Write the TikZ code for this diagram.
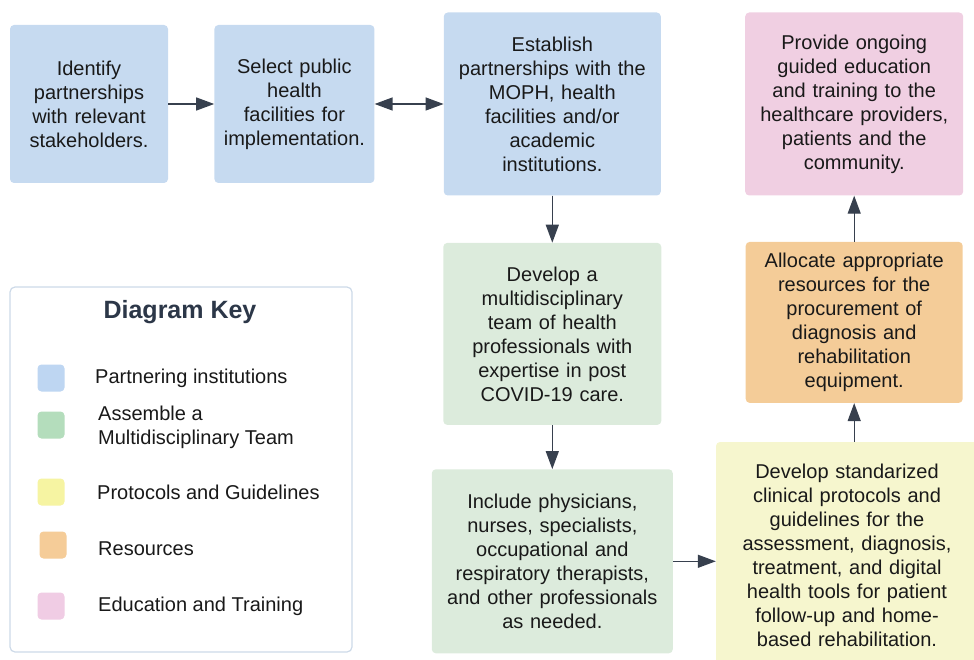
\documentclass[tikz,border=0pt]{standalone}
\usepackage{fontspec}
\setmainfont{Liberation Sans}
\usetikzlibrary{arrows.meta,positioning}
\definecolor{partnerblue}{RGB}{198,218,240}
\definecolor{teamgreen}{RGB}{220,235,220}
\definecolor{protoyellow}{RGB}{246,246,206}
\definecolor{resorange}{RGB}{244,204,152}
\definecolor{edupink}{RGB}{240,207,226}
\definecolor{swblue}{RGB}{190,214,242}
\definecolor{swgreen}{RGB}{180,221,188}
\definecolor{swyellow}{RGB}{246,244,162}
\definecolor{sworange}{RGB}{245,204,152}
\definecolor{swpink}{RGB}{240,204,228}
\definecolor{inkblack}{RGB}{25,25,25}
\definecolor{arrowgray}{RGB}{55,64,78}
\definecolor{keyline}{RGB}{205,218,232}
\definecolor{keyhead}{RGB}{44,55,72}
\tikzset{
 stepbox/.style={
 rectangle,
 rounded corners=4pt,
 align=center,
 inner sep=0pt,
 text=inkblack,
 font=\fontsize{20}{24}\selectfont
 },
 partnerbox/.style={stepbox, fill=partnerblue},
 teambox/.style={stepbox, fill=teamgreen},
 protobox/.style={stepbox, fill=protoyellow},
 resbox/.style={stepbox, fill=resorange},
 edubox/.style={stepbox, fill=edupink},
 keyframe/.style={
 rectangle,
 rounded corners=5pt,
 draw=keyline,
 line width=1.2pt,
 fill=white
 },
 keytitle/.style={font=\fontsize{25}{30}\selectfont\bfseries, text=keyhead},
 swatch/.style={rectangle, rounded corners=4pt, minimum size=27pt, inner sep=0pt},
 keylabel/.style={
 anchor=west,
 align=left,
 inner sep=0pt,
 text=inkblack,
 font=\fontsize{20}{24}\selectfont
 },
 linkarrow/.style={-{Triangle[length=18pt,width=13pt]}, line width=1.3pt, draw=arrowgray, fill=arrowgray},
 linkboth/.style={{Triangle[length=18pt,width=13pt]}-{Triangle[length=18pt,width=13pt]}, line width=1.3pt, draw=arrowgray, fill=arrowgray}
}

\begin{document}
\begin{tikzpicture}[x=1pt,y=1pt]
 \path[use as bounding box] (0,0) rectangle (974,-660);
 \clip (0,0) rectangle (974,-660);

 % top row
 \node[partnerbox, text width=158pt, minimum height=158pt] (ident) at (89,-104)
 {Identify\\partnerships\\with relevant\\stakeholders.};
 \node[partnerbox, text width=160pt, minimum height=158pt, right=46pt of ident] (select)
 {Select public\\health\\facilities for\\implementation.};
 \node[partnerbox, text width=217pt, minimum height=183pt, right=69pt of select] (establish)
 {Establish\\partnerships with the\\MOPH, health\\facilities and/or\\academic\\institutions.};
 \node[edubox, text width=218pt, minimum height=183pt, right=84pt of establish] (educ)
 {Provide ongoing\\guided education\\and training to the\\healthcare providers,\\patients and the\\community.};

 % team column
 \node[teambox, text width=218pt, minimum height=182pt, below=47pt of establish] (develop)
 {Develop a\\multidisciplinary\\team of health\\professionals with\\expertise in post\\COVID-19 care.};
 \node[teambox, text width=241pt, minimum height=184pt, below=44pt of develop] (include)
 {Include physicians,\\nurses, specialists,\\occupational and\\respiratory therapists,\\and other professionals\\as needed.};

 % resources and protocols
 \node[resbox, text width=217pt, minimum height=161pt, below=46pt of educ] (alloc)
 {Allocate appropriate\\resources for the\\procurement of\\diagnosis and\\rehabilitation\\equipment.};
 \node[protobox, text width=262pt, minimum height=226pt] (protocols) at (847,-555)
 {Develop standarized\\clinical protocols and\\guidelines for the\\assessment, diagnosis,\\treatment, and digital\\health tools for patient\\follow-up and home-\\based rehabilitation.};

 \draw[linkarrow] (ident) -- (select);
 \draw[linkboth] (select) -- (establish);
 \draw[linkarrow] (establish) -- (develop);
 \draw[linkarrow] (develop) -- (include);
 \draw[linkarrow] (include.east) -- (include.east -| protocols.west);
 \draw[linkarrow] (alloc.south |- protocols.north) -- (alloc.south);
 \draw[linkarrow] (alloc) -- (educ);

 % diagram key
 \node[keyframe, minimum width=342pt, minimum height=365pt] (key) at (181,-469.5) {};
 \node[keytitle] (keytxt) at (180,-312) {Diagram Key};
 \node[swatch, fill=swblue] (kblue) at (51,-378) {};
 \node[keylabel] (lblue) at (95,-378) {Partnering institutions};
 \node[swatch, fill=swgreen] (kgreen) at (51,-425) {};
 \node[keylabel] (lgreen) at (98,-427) {Assemble a\\Multidisciplinary Team};
 \node[swatch, fill=swyellow] (kyellow) at (51,-492) {};
 \node[keylabel] (lyellow) at (97,-492) {Protocols and Guidelines};
 \node[swatch, fill=sworange] (korange) at (53,-545) {};
 \node[keylabel] (lorange) at (98,-549) {Resources};
 \node[swatch, fill=swpink] (kpink) at (51,-606) {};
 \node[keylabel] (lpink) at (98,-606) {Education and Training};
\end{tikzpicture}
\end{document}
